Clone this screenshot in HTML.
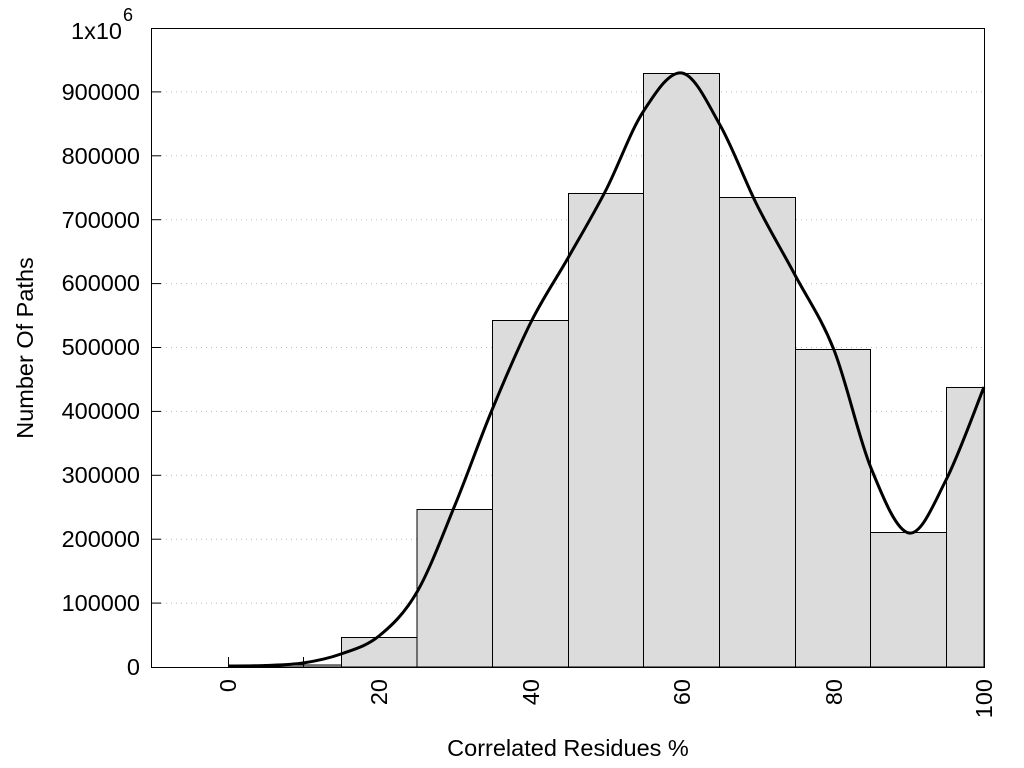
<!DOCTYPE html>
<html><head><meta charset="utf-8"><style>
body{margin:0;background:#fff;}
svg{display:block;font-family:"Liberation Sans",sans-serif;}
</style></head><body>
<svg id="s" width="1024" height="768" viewBox="0 0 1024 768">
<g stroke="#bbb" stroke-width="1" stroke-dasharray="1,4">
<line x1="161" y1="603.1" x2="984" y2="603.1"/>
<line x1="161" y1="539.2" x2="984" y2="539.2"/>
<line x1="161" y1="475.3" x2="984" y2="475.3"/>
<line x1="161" y1="411.4" x2="984" y2="411.4"/>
<line x1="161" y1="347.5" x2="984" y2="347.5"/>
<line x1="161" y1="283.6" x2="984" y2="283.6"/>
<line x1="161" y1="219.7" x2="984" y2="219.7"/>
<line x1="161" y1="155.8" x2="984" y2="155.8"/>
<line x1="161" y1="91.9" x2="984" y2="91.9"/>
</g>
<g fill="#dcdcdc" stroke="#000" stroke-width="1">
<rect x="265.5" y="665" width="76" height="2"/>
<rect x="341.5" y="637.5" width="76" height="29.5"/>
<rect x="417" y="509.5" width="75.5" height="157.5"/>
<rect x="492.5" y="320.5" width="76" height="346.5"/>
<rect x="568.5" y="193.5" width="75" height="473.5"/>
<rect x="643.5" y="73.5" width="76" height="593.5"/>
<rect x="719.5" y="197.5" width="76" height="469.5"/>
<rect x="795.5" y="349.5" width="75" height="317.5"/>
<rect x="870.5" y="532.5" width="76" height="134.5"/>
<rect x="946.5" y="387.5" width="37.5" height="279.5"/>
</g>
<g stroke="#000" stroke-width="1">
<line x1="228.5" y1="657" x2="228.5" y2="667"/>
<line x1="303.5" y1="657" x2="303.5" y2="667"/>
<line x1="151" y1="603.1" x2="161" y2="603.1"/>
<line x1="151" y1="539.2" x2="161" y2="539.2"/>
<line x1="151" y1="475.3" x2="161" y2="475.3"/>
<line x1="151" y1="411.4" x2="161" y2="411.4"/>
<line x1="151" y1="347.5" x2="161" y2="347.5"/>
<line x1="151" y1="283.6" x2="161" y2="283.6"/>
<line x1="151" y1="219.7" x2="161" y2="219.7"/>
<line x1="151" y1="155.8" x2="161" y2="155.8"/>
<line x1="151" y1="91.9" x2="161" y2="91.9"/>
</g>
<path id="curve" fill="none" stroke="#000" stroke-width="3" stroke-linejoin="round"/>
<rect x="151.5" y="28.5" width="833" height="639" fill="none" stroke="#000" stroke-width="1"/>
<g font-size="23.5" text-anchor="end" fill="#000">
<text x="140" y="675">0</text>
<text x="140" y="611">100000</text>
<text x="140" y="547">200000</text>
<text x="140" y="483">300000</text>
<text x="140" y="419">400000</text>
<text x="140" y="355">500000</text>
<text x="140" y="291">600000</text>
<text x="140" y="228">700000</text>
<text x="140" y="164">800000</text>
<text x="140" y="100">900000</text>
<text x="122" y="39">1x10</text>
<text x="123" y="21" font-size="18" text-anchor="start">6</text>
</g>
<g font-size="23.5" text-anchor="end">
<text transform="translate(236,679) rotate(-90)">0</text>
<text transform="translate(387,679) rotate(-90)">20</text>
<text transform="translate(539,679) rotate(-90)">40</text>
<text transform="translate(690,679) rotate(-90)">60</text>
<text transform="translate(842,679) rotate(-90)">80</text>
<text transform="translate(992,679) rotate(-90)">100</text>
</g>
<text x="568" y="756" font-size="23.5" text-anchor="middle">Correlated Residues %</text>
<text transform="translate(33,348) rotate(-90)" font-size="23.5" text-anchor="middle">Number Of Paths</text>
</svg>
<script>
var p=[[228,666],[265,665.5],[303,663],[341,654],[379,636],[417,592],[455,505],[492,410],[531,322],[568,258],[606,190],[643,112],[682,73],[720,125],[757,205],[795,275],[834,350],[871,468],[909,533],[946,480],[984,387]];
var d="M"+p[0][0]+","+p[0][1];
for(var i=0;i<p.length-1;i++){
var p0=p[i-1]||p[i],p1=p[i],p2=p[i+1],p3=p[i+2]||p[i+1];
var c1=[p1[0]+(p2[0]-p0[0])/6,p1[1]+(p2[1]-p0[1])/6];
var c2=[p2[0]-(p3[0]-p1[0])/6,p2[1]-(p3[1]-p1[1])/6];
d+="C"+c1+" "+c2+" "+p2;
}
document.getElementById("curve").setAttribute("d",d);
</script>
</body></html>
